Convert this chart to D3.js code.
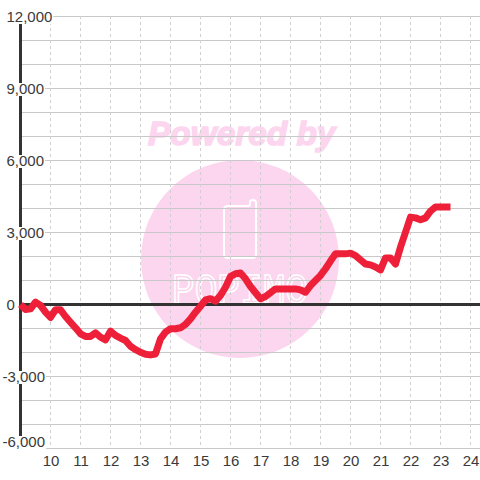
<!DOCTYPE html>
<html><head><meta charset="utf-8">
<script src="https://cdn.jsdelivr.net/npm/d3@7"></script>
<style>html,body{margin:0;padding:0;background:#fff}svg{display:block}text{font-family:"Liberation Sans",Arial,sans-serif}</style>
</head><body><svg id="c" width="480" height="480"></svg>
<script>
const yMajorTicks=[12000,9000,6000,3000,0,-3000,-6000];
const yGridTicks=[12000,11000,10000,9000,8000,7000,6000,5000,4000,3000,2000,1000,0,-1000,-2000,-3000,-4000,-5000,-6000];
const xTicks=[10,11,12,13,14,15,16,17,18,19,20,21,22,23,24];
const startHour=9, stepHours=1/6;
const profit=[0,-210,-180,100,-40,-320,-540,-220,-220,-500,-740,-970,-1220,-1330,-1330,-1180,-1360,-1470,-1110,-1290,-1400,-1500,-1740,-1880,-1990,-2070,-2100,-2060,-1430,-1150,-1010,-1010,-970,-830,-600,-320,-70,190,240,140,380,720,1170,1280,1310,
1070,750,490,240,330,490,650,650,650,650,650,610,510,790,1000,1210,1490,1810,2110,2110,2110,2140,2040,1860,1690,1650,1560,1440,1940,1940,1690,2390,3010,3640,3610,3530,3610,3890,4060,4060,4060,4060];

const x=d3.scaleLinear().domain([9,24]).range([20,470]);
const y=d3.scaleLinear().domain([-6000,12000]).range([448,16]);
const svg=d3.select("#c");

// watermark
const wm=svg.append("g");
const pink="#fcd6ee";
wm.append("text").attr("x",148).attr("y",145).attr("font-size",33.4).attr("font-weight","bold").attr("font-style","italic")
  .attr("fill",pink).attr("stroke",pink).attr("stroke-width",1.5).text("Powered by");
wm.append("circle").attr("cx",240).attr("cy",259).attr("r",99).attr("fill",pink);
wm.append("path").attr("d","M228 206H248Q250 206 250 204V202Q250 200 253 200Q256 200 256 203V254Q256 258 252 258H228Q224 258 224 254V210Q224 206 228 206Z")
  .attr("fill","none").attr("stroke","#fff").attr("stroke-width",2);
wm.append("text").attr("x",172).attr("y",303).attr("font-size",42).attr("textLength",136).attr("lengthAdjust","spacingAndGlyphs")
  .style("font-family","'Liberation Mono',monospace").attr("fill",pink).attr("stroke","#fff").attr("stroke-width",1.6).text("POPIMO");

// grid via axes
const gy=svg.append("g").attr("transform","translate(20,0)")
  .call(d3.axisRight(y).tickValues(yGridTicks).tickSize(460).tickFormat(""));
gy.select(".domain").remove();
gy.selectAll("line").attr("stroke","#c8c8c8").attr("stroke-width",1);
const gx=svg.append("g").attr("transform","translate(0,16)")
  .call(d3.axisBottom(x).tickValues(xTicks).tickSize(432).tickFormat(""));
gx.select(".domain").remove();
gx.selectAll("line").attr("stroke","#cfcfcf").attr("stroke-width",1).attr("stroke-dasharray","3,3");

// axis lines
svg.append("line").attr("x1",x(9)).attr("x2",480).attr("y1",y(0)+.5).attr("y2",y(0)+.5).attr("stroke","#333").attr("stroke-width",3);
svg.append("line").attr("x1",x(9)+.5).attr("x2",x(9)+.5).attr("y1",y(12000)).attr("y2",y(-6000)).attr("stroke","#333").attr("stroke-width",3);

// y labels with white boxes (the lowest one is nudged up to stay clear of the x labels)
const fmt=d3.format(",");
const yl=svg.append("g").selectAll("g").data(yMajorTicks).join("g").attr("transform",d=>`translate(0,${y(d)-(d===-6000?7:0)})`);
yl.each(function(d){
  const g=d3.select(this);
  const t=g.append("text").attr("x",d<0?2.5:6.5).attr("y",5.5).attr("font-size",15).attr("fill","#3a3a3a").text(fmt(d).replace("−","-"));
  const b=t.node().getBBox();
  g.insert("rect","text").attr("x",b.x).attr("y",-5).attr("width",b.width+(d===0?0:1)).attr("height",13).attr("fill","#fff");
});

// x labels
svg.append("g").selectAll("text").data(xTicks).join("text")
  .attr("x",d=>x(d)+1).attr("y",466).attr("text-anchor","middle").attr("font-size",15).attr("fill","#3a3a3a").text(d=>d);

// series
const line=d3.line().x((d,i)=>x(startHour+i*stepHours)).y(d=>y(d)).curve(d3.curveLinear);
svg.append("path").datum(profit).attr("transform","translate(0.5,0.5)").attr("d",line).attr("fill","none").attr("stroke","#ee2039").attr("stroke-width",7).attr("stroke-linejoin","round");
</script></body></html>
